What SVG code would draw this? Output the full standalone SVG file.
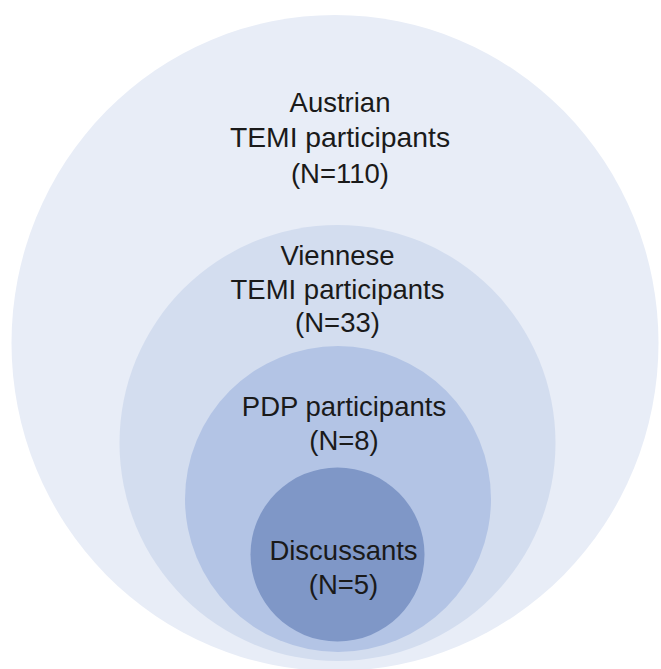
<svg xmlns="http://www.w3.org/2000/svg" width="661" height="669" viewBox="0 0 661 669">
  <style>
    text { font-family: "Liberation Sans", Arial, sans-serif; font-size: 27.5px; fill: #1a1a1a; text-anchor: middle; }
  </style>
  <rect width="661" height="669" fill="#ffffff"/>
  <g id="austrian">
    <ellipse cx="335" cy="343" rx="323.5" ry="328" fill="#e8edf7"/>
    <text x="340" y="111.5">Austrian</text>
    <text x="340" y="147" style="font-size:28.3px">TEMI participants</text>
    <text x="340" y="182.5">(N=110)</text>
  </g>
  <g id="viennese">
    <circle cx="337.5" cy="443" r="218" fill="#d3ddef"/>
    <text x="337.5" y="265">Viennese</text>
    <text x="337.5" y="298.5">TEMI participants</text>
    <text x="337.5" y="332">(N=33)</text>
  </g>
  <g id="pdp">
    <circle cx="338" cy="499" r="153" fill="#b3c4e5"/>
    <text x="344" y="416">PDP participants</text>
    <text x="344" y="450">(N=8)</text>
  </g>
  <g id="discussants">
    <circle cx="337.5" cy="554.5" r="87" fill="#7f97c7"/>
    <text x="343.5" y="560">Discussants</text>
    <text x="343.5" y="594">(N=5)</text>
  </g>
  <g id="connectors"/>
</svg>
